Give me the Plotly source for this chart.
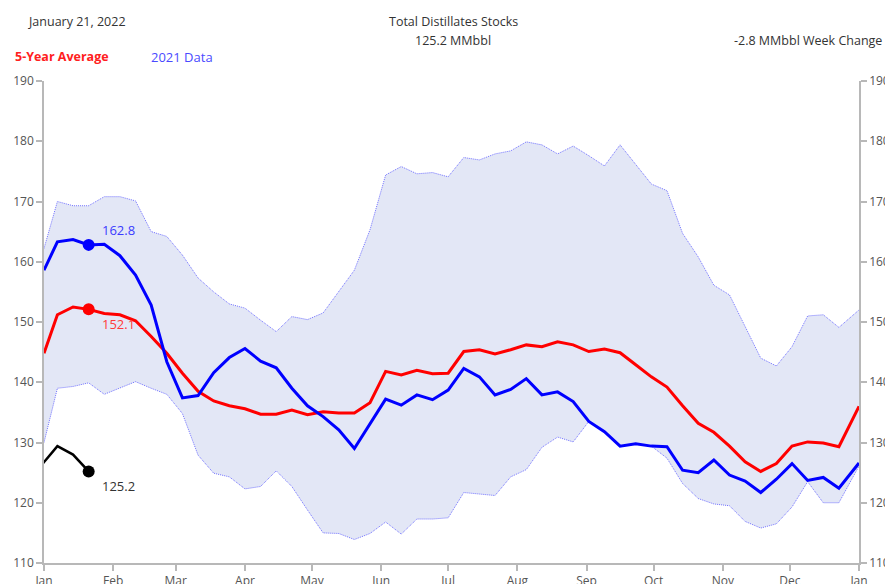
import datetime as dt
import plotly.graph_objects as go

# ---- data (MMbbl) ----
# weekly points: edge at Jan 1, weekly Jan 7 .. Dec 23, edge at Jan 1 next year
data_2021 = [158.6, 163.3, 163.7, 162.8, 162.9, 161.0, 157.8, 152.8, 143.4, 137.4,
             137.8, 141.6, 144.1, 145.6, 143.5, 142.4, 139.0, 136.1, 134.3, 132.1,
             129.0, 133.2, 137.2, 136.2, 137.9, 137.1, 138.7, 142.3, 140.9, 137.9,
             138.8, 140.6, 137.9, 138.4, 136.8, 133.5, 131.8, 129.4, 129.8, 129.4,
             129.3, 125.4, 125.0, 127.1, 124.6, 123.6, 121.7, 123.9, 126.5, 123.7,
             124.2, 122.4, 126.6]
avg_5yr = [144.8, 151.2, 152.5, 152.1, 151.4, 151.2, 150.2, 147.6, 144.8, 141.5,
           138.5, 136.9, 136.1, 135.6, 134.7, 134.7, 135.4, 134.6, 135.1, 134.9,
           134.9, 136.6, 141.8, 141.2, 142.0, 141.4, 141.5, 145.1, 145.4, 144.7,
           145.4, 146.2, 145.9, 146.7, 146.2, 145.1, 145.5, 144.9, 142.9, 140.9,
           139.2, 136.1, 133.2, 131.7, 129.4, 126.8, 125.2, 126.5, 129.4, 130.1,
           129.9, 129.3, 136.0]
range_max = [162.2, 170.0, 169.3, 169.3, 170.8, 170.8, 170.1, 165.0, 164.2, 161.1,
             157.3, 155.0, 153.0, 152.3, 150.3, 148.4, 150.9, 150.4, 151.5, 155.1,
             158.6, 165.3, 174.4, 175.8, 174.6, 174.8, 174.1, 177.3, 176.9, 177.9,
             178.4, 179.9, 179.4, 177.9, 179.2, 177.6, 175.9, 179.4, 176.1, 172.9,
             171.8, 164.7, 160.8, 156.1, 154.5, 149.2, 144.0, 142.7, 145.9, 151.0,
             151.2, 149.1, 152.0]
range_min = [130.0, 139.0, 139.3, 139.9, 138.0, 139.0, 140.1, 139.0, 138.0, 134.8,
             127.9, 124.9, 124.3, 122.3, 122.7, 125.3, 122.7, 118.8, 115.0, 114.9,
             113.9, 114.9, 116.8, 114.8, 117.3, 117.3, 117.5, 121.7, 121.4, 121.2,
             124.3, 125.5, 129.2, 130.9, 130.1, 133.5, 131.8, 129.4, 129.8, 129.4,
             127.4, 123.2, 120.7, 119.8, 119.5, 116.9, 115.8, 116.5, 119.3, 123.5,
             120.0, 120.0, 126.1]
data_2022_dates = ["2021-12-31", "2022-01-07", "2022-01-14", "2022-01-21"]
data_2022 = [126.3, 129.4, 128.0, 125.2]

tick_labels = ["Jan", "Feb", "Mar", "Apr", "May", "Jun", "Jul", "Aug", "Sep", "Oct", "Nov", "Dec", "Jan"]
tick_dates = ["2022-%02d-01" % m for m in range(1, 13)] + ["2023-01-01"]

# week dates
start = dt.date(2022, 1, 7)
week_dates = ["2022-01-01"] + [(start + dt.timedelta(days=7 * i)).isoformat() for i in range(51)] + ["2023-01-01"]

# page body has an 8px margin; figure is placed at (8, 8) in the window
OFF = 8
W, H = 885, 590
PL, PR, PT, PB = 44, 859, 81, 563          # plot area in window pixels
L, T = PL - OFF, PT - OFF
R = W - (PR - OFF)
B = H - (PB - OFF)


def px(x):
    return (x - PL) / (PR - PL)


def py(y):
    return (PB - y) / (PB - PT)


font = "Open Sans, Lato, sans-serif"
band_line = dict(color="rgba(100,100,255,0.9)", width=1, dash="1px,1px")
fig = go.Figure()
fig.add_trace(go.Scatter(x=week_dates, y=range_min, mode="lines", line=band_line,
                         hoverinfo="skip", showlegend=False))
fig.add_trace(go.Scatter(x=week_dates, y=range_max, mode="lines", fill="tonexty",
                         fillcolor="rgba(200,207,238,0.5)", line=band_line,
                         hoverinfo="skip", showlegend=False))
fig.add_trace(go.Scatter(x=week_dates, y=avg_5yr, mode="lines",
                         line=dict(color="#ff0000", width=3), showlegend=False))
fig.add_trace(go.Scatter(x=week_dates, y=data_2021, mode="lines",
                         line=dict(color="#0000ff", width=3), showlegend=False))
fig.add_trace(go.Scatter(x=data_2022_dates, y=data_2022, mode="lines",
                         line=dict(color="#000000", width=2.5), showlegend=False))
# highlighted markers
fig.add_trace(go.Scatter(x=[week_dates[3]], y=[data_2021[3]], mode="markers",
                         marker=dict(size=12, color="#0000ff"), showlegend=False))
fig.add_trace(go.Scatter(x=[week_dates[3]], y=[avg_5yr[3]], mode="markers",
                         marker=dict(size=12, color="#ff0000"), showlegend=False))
fig.add_trace(go.Scatter(x=[data_2022_dates[-1]], y=[data_2022[-1]], mode="markers",
                         marker=dict(size=12, color="#000000"), showlegend=False))

ann = []
ann.append(dict(x=week_dates[3], y=data_2021[3], xref="x", yref="y", text="%.1f" % data_2021[3],
                xanchor="left", yanchor="middle", xshift=11, yshift=15, showarrow=False,
                font=dict(family=font, size=13, color="#3a3aff")))
ann.append(dict(x=week_dates[3], y=avg_5yr[3], xref="x", yref="y", text="%.1f" % avg_5yr[3],
                xanchor="left", yanchor="middle", xshift=11, yshift=-15, showarrow=False,
                font=dict(family=font, size=13, color="#ff3a3a")))
ann.append(dict(x=data_2022_dates[-1], y=data_2022[-1], xref="x", yref="y", text="%.1f" % data_2022[-1],
                xanchor="left", yanchor="middle", xshift=11, yshift=-15, showarrow=False,
                font=dict(family=font, size=13, color="#333333")))
hdr = dict(family=font, size=12.5, color="#333333")
ann.append(dict(x=px(26), y=py(21), xref="paper", yref="paper", text="January 21, 2022",
                xanchor="left", yanchor="middle", showarrow=False, font=hdr))
ann.append(dict(x=px(453), y=py(21), xref="paper", yref="paper", text="Total Distillates Stocks",
                xanchor="center", yanchor="middle", showarrow=False, font=hdr))
ann.append(dict(x=px(453), y=py(40), xref="paper", yref="paper", text="125.2 MMbbl",
                xanchor="center", yanchor="middle", showarrow=False, font=hdr))
ann.append(dict(x=px(884), y=py(40), xref="paper", yref="paper", text="-2.8 MMbbl Week Change",
                xanchor="right", yanchor="middle", showarrow=False, font=hdr))
ann.append(dict(x=px(13), y=py(57), xref="paper", yref="paper", text="<b>5-Year Average</b>",
                xanchor="left", yanchor="middle", showarrow=False,
                font=dict(family=font, size=12.5, color="#ff2020")))
ann.append(dict(x=px(149), y=py(57), xref="paper", yref="paper", text="2021 Data",
                xanchor="left", yanchor="middle", showarrow=False,
                font=dict(family=font, size=13, color="#4a4aff")))

axis_col = "#b8b8b8"
common = dict(showgrid=False, zeroline=False, showline=True, linecolor=axis_col, linewidth=1.5,
              ticks="outside", ticklen=6, tickcolor=axis_col, tickwidth=1.5, automargin=False,
              tickfont=dict(family=font, size=12, color="#555555"))
fig.update_layout(
    width=W, height=H,
    margin=dict(l=L, r=R, t=T, b=B, autoexpand=False),
    paper_bgcolor="white", plot_bgcolor="white",
    annotations=ann,
    xaxis=dict(type="date", range=["2022-01-01", "2023-01-01"],
               tickvals=tick_dates, ticktext=tick_labels, **common),
    yaxis=dict(range=[110, 190], dtick=10, **common),
    yaxis2=dict(range=[110, 190], dtick=10, overlaying="y", side="right", **common),
)
# invisible trace to activate right axis
fig.add_trace(go.Scatter(x=[week_dates[0]], y=[150], yaxis="y2", mode="markers",
                         marker=dict(opacity=0), hoverinfo="skip", showlegend=False))

fig.write_html("out.html")
